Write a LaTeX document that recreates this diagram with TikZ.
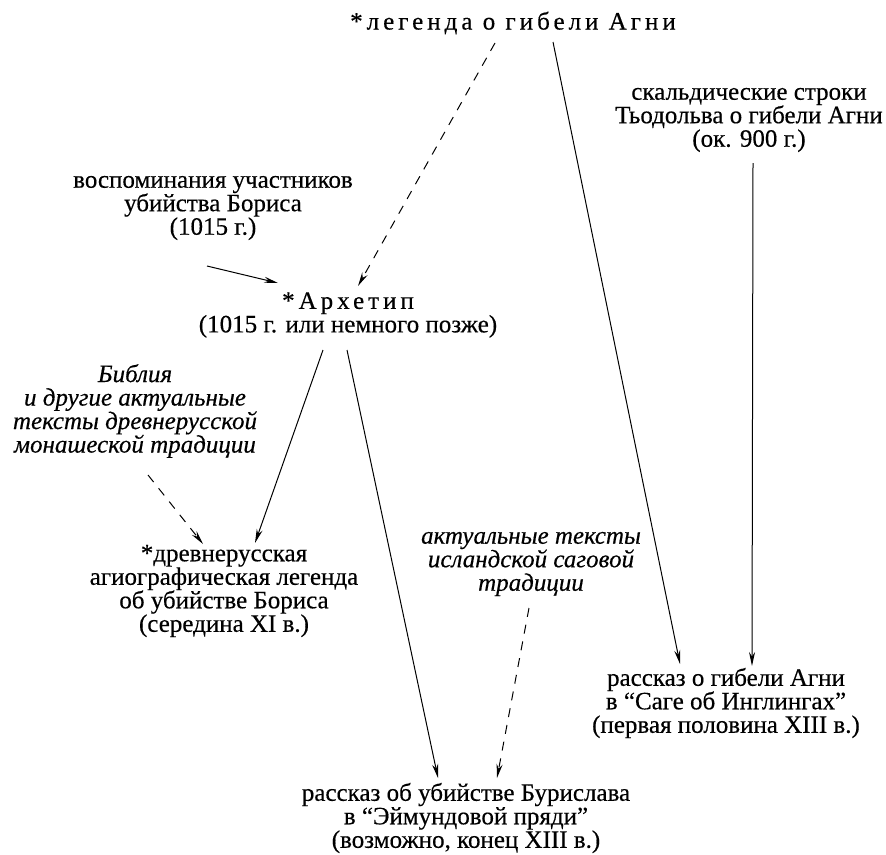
\documentclass[tikz,border=0pt]{standalone}
\usepackage{fontspec}
\setmainfont{Liberation Serif}[FakeBold=0.4]
\usetikzlibrary{arrows.meta}
\begin{document}
\begin{tikzpicture}[x=1pt,y=-1pt,
  txt/.style={align=center,inner sep=0pt,font=\fontsize{25}{23.5}\selectfont},
  itx/.style={txt,font=\fontsize{25}{23.5}\selectfont\itshape},
  spc/.style={txt,font=\fontsize{25}{23.5}\selectfont\addfontfeatures{LetterSpace=16}},
  arr/.style={line width=1pt,-{Stealth[length=14pt,width=6pt]}},
  darr/.style={arr,dash pattern=on 9pt off 8pt}]
\useasboundingbox (0,0) rectangle (886,854);
\fill[white] (0,0) rectangle (886,854);

\node[spc] (legend) at (513,23) {*легенда о гибели Агни};
\node[txt] (skald) at (749,120) {скальдические строки\\Тьодольва о гибели Агни\\(ок. 900 г.)};
\node[txt] (memo) at (213,208) {воспоминания участников\\убийства Бориса\\(1015 г.)};
\node[txt] (arch) at (348,315) {\addfontfeatures{LetterSpace=16}*Архетип\\(1015 г. или немного позже)};
\node[itx] (bible) at (135,411) {Библия\\и другие актуальные\\тексты древнерусской\\монашеской традиции};
\node[txt] (oldrus) at (224,591) {*древнерусская\\агиографическая легенда\\об убийстве Бориса\\(середина XI в.)};
\node[itx] (icel) at (531,564) {актуальные тексты\\исландской саговой\\традиции};
\node[txt] (yngl) at (726,703) {рассказ о гибели Агни\\в “Саге об Инглингах”\\(первая половина XIII в.)};
\node[txt] (buris) at (466,818) {рассказ об убийстве Бурислава\\в “Эймундовой пряди”\\(возможно, конец XIII в.)};

\coordinate (l1) at (495,43);   \coordinate (a1) at (358,286);
\coordinate (l2) at (553,42);   \coordinate (y1) at (680,664);
\coordinate (s1) at (753,163);  \coordinate (y2) at (752,666);
\coordinate (m1) at (207,266);  \coordinate (a2) at (278,283);
\coordinate (c1) at (323,350);  \coordinate (o1) at (255,543);
\coordinate (c2) at (347,350);  \coordinate (b1) at (438,778);
\coordinate (bb) at (148,475);  \coordinate (o2) at (203,544);
\coordinate (i1) at (529,608);  \coordinate (b2) at (497,778);

\draw[darr] (l1) -- (a1);
\draw[arr] (l2) -- (y1);
\draw[arr] (s1) -- (y2);
\draw[arr] (m1) -- (a2);
\draw[arr] (c1) -- (o1);
\draw[arr] (c2) -- (b1);
\draw[darr] (bb) -- (o2);
\draw[darr] (i1) -- (b2);
\end{tikzpicture}
\end{document}
